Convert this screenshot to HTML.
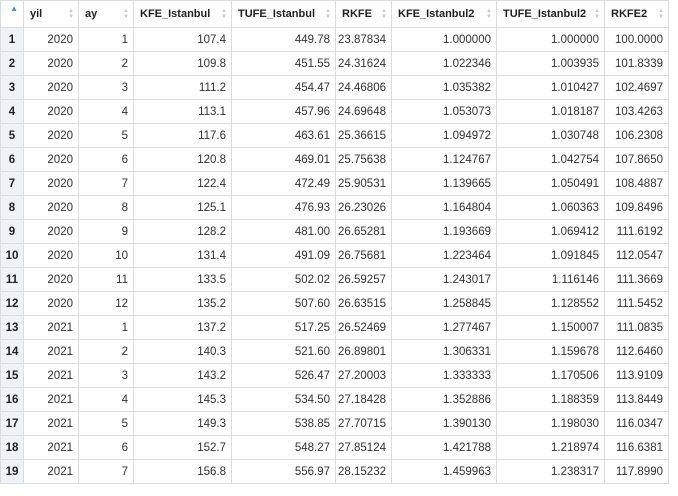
<!DOCTYPE html>
<html><head><meta charset="utf-8"><style>
body{margin:0;width:678px;height:496px;background:#fff;overflow:hidden;font-family:"Liberation Sans",sans-serif;font-size:11.5px;color:#333}
table{position:absolute;left:0;top:0;border-collapse:collapse;table-layout:fixed;width:668px}
th,td{border:1px solid #dcdcdc;height:23px;padding:0 5px 0 0;text-align:right;white-space:nowrap;overflow:hidden}
th{height:26px;text-align:left;padding-left:6px;font-weight:bold;color:#222;position:relative;background:#fff;font-size:11px}
th .s{position:absolute;right:4px;top:7px;font-size:6px;line-height:6px;color:#c8c8c8}
th.rn{padding:0}
th.rn .s{right:5px;color:#3a8ee6;font-size:8px;top:5px}
td.rn{background:#eef3f7;font-weight:bold;color:#222;text-align:center;padding:0}
</style></head><body>
<table id="t">
<colgroup><col style="width:23px"><col style="width:55px"><col style="width:55px"><col style="width:98px"><col style="width:104px"><col style="width:56px"><col style="width:105px"><col style="width:108px"><col style="width:64px"></colgroup>
<thead><tr>
<th class="rn"><span class="s">▲</span></th>
<th>yil<span class="s">▲<br>▼</span></th>
<th>ay<span class="s">▲<br>▼</span></th>
<th>KFE_Istanbul<span class="s">▲<br>▼</span></th>
<th>TUFE_Istanbul<span class="s">▲<br>▼</span></th>
<th>RKFE<span class="s">▲<br>▼</span></th>
<th>KFE_Istanbul2<span class="s">▲<br>▼</span></th>
<th>TUFE_Istanbul2<span class="s">▲<br>▼</span></th>
<th>RKFE2<span class="s">▲<br>▼</span></th>
</tr></thead>
<tbody id="b"></tbody></table>
<script>
const yil=[2020,2020,2020,2020,2020,2020,2020,2020,2020,2020,2020,2020,2021,2021,2021,2021,2021,2021,2021];
const ay=[1,2,3,4,5,6,7,8,9,10,11,12,1,2,3,4,5,6,7];
const kfe=["107.4","109.8","111.2","113.1","117.6","120.8","122.4","125.1","128.2","131.4","133.5","135.2","137.2","140.3","143.2","145.3","149.3","152.7","156.8"];
const tufe=["449.78","451.55","454.47","457.96","463.61","469.01","472.49","476.93","481.00","491.09","502.02","507.60","517.25","521.60","526.47","534.50","538.85","548.27","556.97"];
const rkfe=["23.87834","24.31624","24.46806","24.69648","25.36615","25.75638","25.90531","26.23026","26.65281","26.75681","26.59257","26.63515","26.52469","26.89801","27.20003","27.18428","27.70715","27.85124","28.15232"];
const kfe2=["1.000000","1.022346","1.035382","1.053073","1.094972","1.124767","1.139665","1.164804","1.193669","1.223464","1.243017","1.258845","1.277467","1.306331","1.333333","1.352886","1.390130","1.421788","1.459963"];
const tufe2=["1.000000","1.003935","1.010427","1.018187","1.030748","1.042754","1.050491","1.060363","1.069412","1.091845","1.116146","1.128552","1.150007","1.159678","1.170506","1.188359","1.198030","1.218974","1.238317"];
const rkfe2=["100.0000","101.8339","102.4697","103.4263","106.2308","107.8650","108.4887","109.8496","111.6192","112.0547","111.3669","111.5452","111.0835","112.6460","113.9109","113.8449","116.0347","116.6381","117.8990"];
const b=document.getElementById('b');
for(let i=0;i<yil.length;i++){
  const tr=document.createElement('tr');
  
  
  const vals=[i+1,yil[i],ay[i],kfe[i],tufe[i],rkfe[i],kfe2[i],tufe2[i],rkfe2[i]];
  vals.forEach((v,j)=>{
    const td=document.createElement('td');
    
    
    if(j===0)td.className='rn';
    td.textContent=v;
    tr.appendChild(td);
  });
  b.appendChild(tr);
}
</script>
</body></html>
